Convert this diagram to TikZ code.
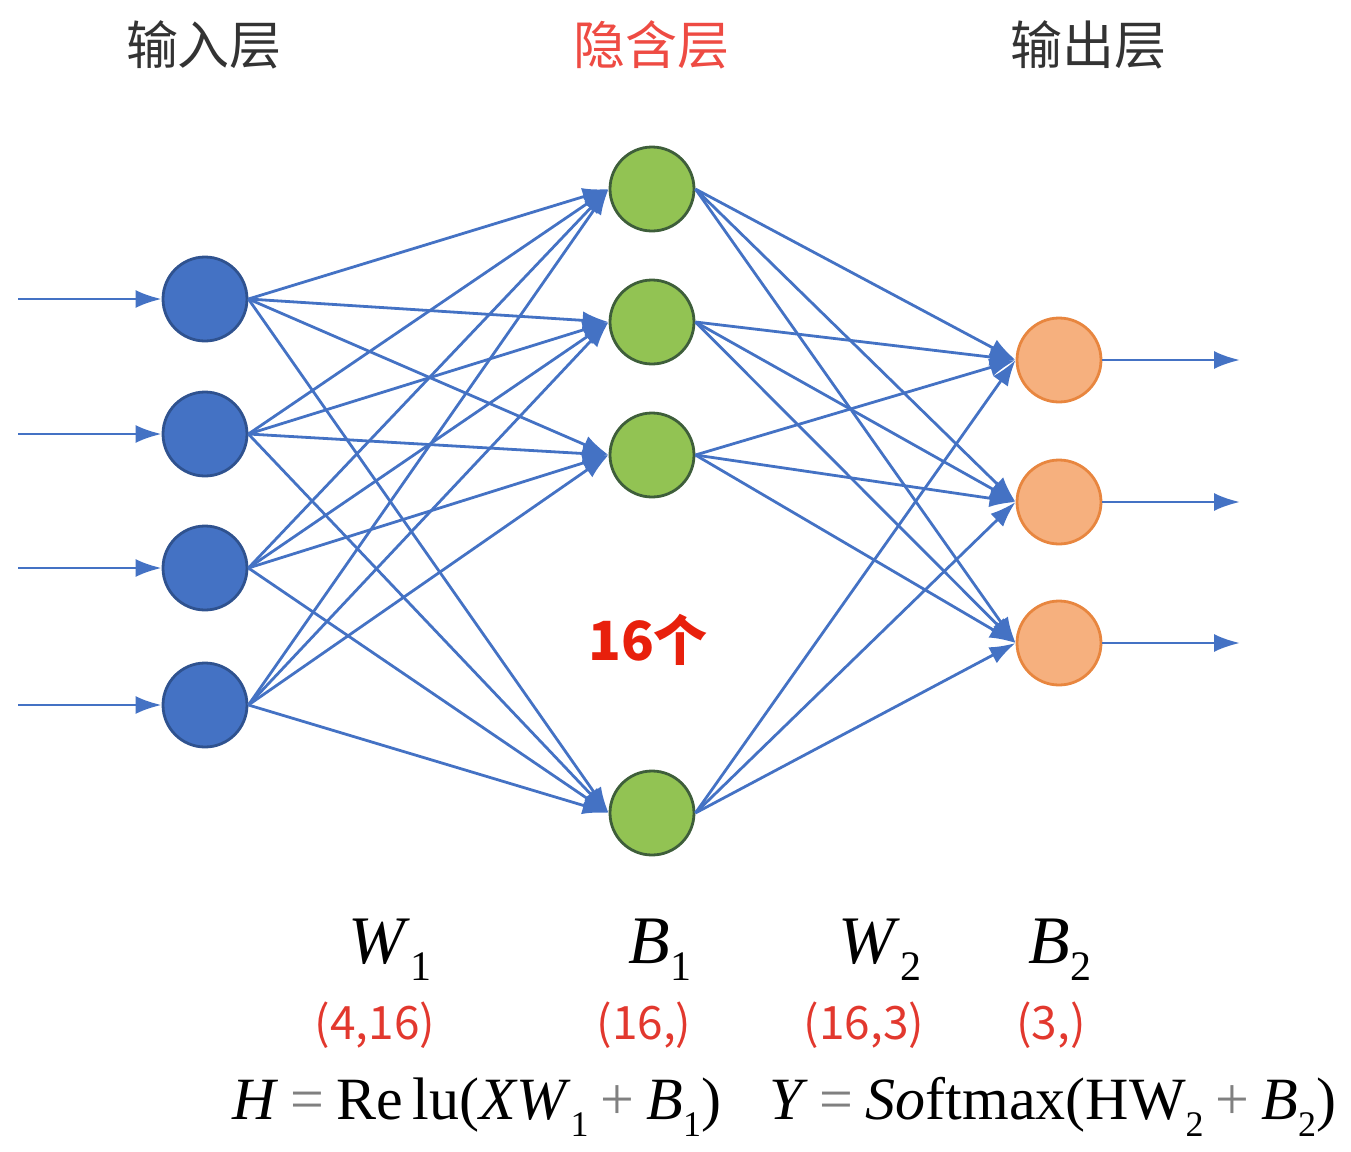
\documentclass[tikz,border=0pt]{standalone}
\usepackage{fontspec}
\setmainfont{Liberation Serif}
\newfontfamily\cjk{Noto Sans CJK SC}
\usetikzlibrary{arrows.meta}
\definecolor{eblue}{HTML}{4472C4}
\definecolor{bborder}{HTML}{2F528F}
\definecolor{gfill}{HTML}{92C353}
\definecolor{gborder}{HTML}{3E5E3A}
\definecolor{ofill}{HTML}{F6B07E}
\definecolor{oborder}{HTML}{E8863F}
\definecolor{tred}{HTML}{EE4B43}
\definecolor{lred}{HTML}{E2382E}
\definecolor{bred}{HTML}{E8200C}
\definecolor{tgray}{HTML}{333333}
\newcommand{\lowsub}[1]{\raisebox{-0.28em}{\fontsize{18}{20}\selectfont #1}}
\newcommand{\parsub}[1]{\raisebox{-0.25em}{\fontsize{21}{23}\selectfont #1}}
\newcommand{\op}[1]{\hspace{0.2em}{\color{gray}#1}\hspace{0.2em}}
\tikzset{
  neuron/.style={circle, minimum size=42pt, inner sep=0pt, line width=1.4pt},
  inneuron/.style={neuron, fill=eblue, draw=bborder},
  hidneuron/.style={neuron, fill=gfill, draw=gborder},
  outneuron/.style={neuron, fill=ofill, draw=oborder},
  edge/.style={draw=eblue, line width=1.4pt, -{Latex[length=13pt,width=9pt]}},
  title/.style={font=\cjk\fontsize{26}{30}\selectfont, text=tgray},
  shape lbl/.style={font=\cjk\fontsize{23}{26}\selectfont, text=lred},
  param/.style={font=\fontsize{34}{38}\selectfont},
  formula/.style={font=\fontsize{30}{34}\selectfont, anchor=west, inner sep=0pt}
}
\begin{document}
\begin{tikzpicture}[x=0.5pt,y=-0.5pt]
\useasboundingbox (0,0) rectangle (1351,1152);
% titles
\node[title] (tin) at (204,45) {输入层};
\node[title, text=tred] (thid) at (651,45) {隐含层};
\node[title] (tout) at (1088,45) {输出层};
% neurons
\node[inneuron] (i1) at (205,299) {};
\node[inneuron] (i2) at (205,434) {};
\node[inneuron] (i3) at (205,568) {};
\node[inneuron] (i4) at (205,705) {};
\node[hidneuron] (h1) at (652,189) {};
\node[hidneuron] (h2) at (652,322) {};
\node[hidneuron] (h3) at (652,455) {};
\node[hidneuron] (h4) at (652,813) {};
\node[outneuron] (o1) at (1059,360) {};
\node[outneuron] (o2) at (1059,502) {};
\node[outneuron] (o3) at (1059,643) {};
% free ends
\coordinate (s1) at (18,299);
\coordinate (s2) at (18,434);
\coordinate (s3) at (18,568);
\coordinate (s4) at (18,705);
\coordinate (t1) at (1240,360);
\coordinate (t2) at (1240,502);
\coordinate (t3) at (1240,643);
% connectors
\foreach \i in {1,...,4}{
  \draw[edge] (s\i) -- (i\i.west);
  \foreach \j in {1,...,4}{
    \draw[edge] (i\i.east) -- (h\j.west);
  }
  \foreach \k in {1,...,3}{
    \draw[edge] (h\i.east) -- (o\k.west);
  }
}
\foreach \k in {1,...,3}{
  \draw[edge] (o\k.east) -- (t\k);
}
% count
\node[font=\cjk\bfseries\fontsize{27}{30}\selectfont, text=bred] (cnt) at (648,640) {16个};
% parameters
\node[param] (w1) at (390,950) {\textit{W}\parsub{1}};
\node[param] (b1) at (660,950) {\textit{B}\parsub{1}};
\node[param] (w2) at (880,950) {\textit{W}\parsub{2}};
\node[param] (b2) at (1060,950) {\textit{B}\parsub{2}};
\node[shape lbl] (sw1) at (375,1025) {(4,16)};
\node[shape lbl] (sb1) at (644,1025) {(16,)};
\node[shape lbl] (sw2) at (864,1025) {(16,3)};
\node[shape lbl] (sb2) at (1051,1025) {(3,)};
% formula
\node[formula] (f) at (232,1107) {\textit{H}\op{=}Re\,lu(\textit{XW}\lowsub{1}\op{+}\textit{B}\lowsub{1})\hspace{0.8em}\textit{Y}\op{=}\textit{So}ftmax(HW\lowsub{2}\op{+}\textit{B}\lowsub{2})};
\end{tikzpicture}
\end{document}
